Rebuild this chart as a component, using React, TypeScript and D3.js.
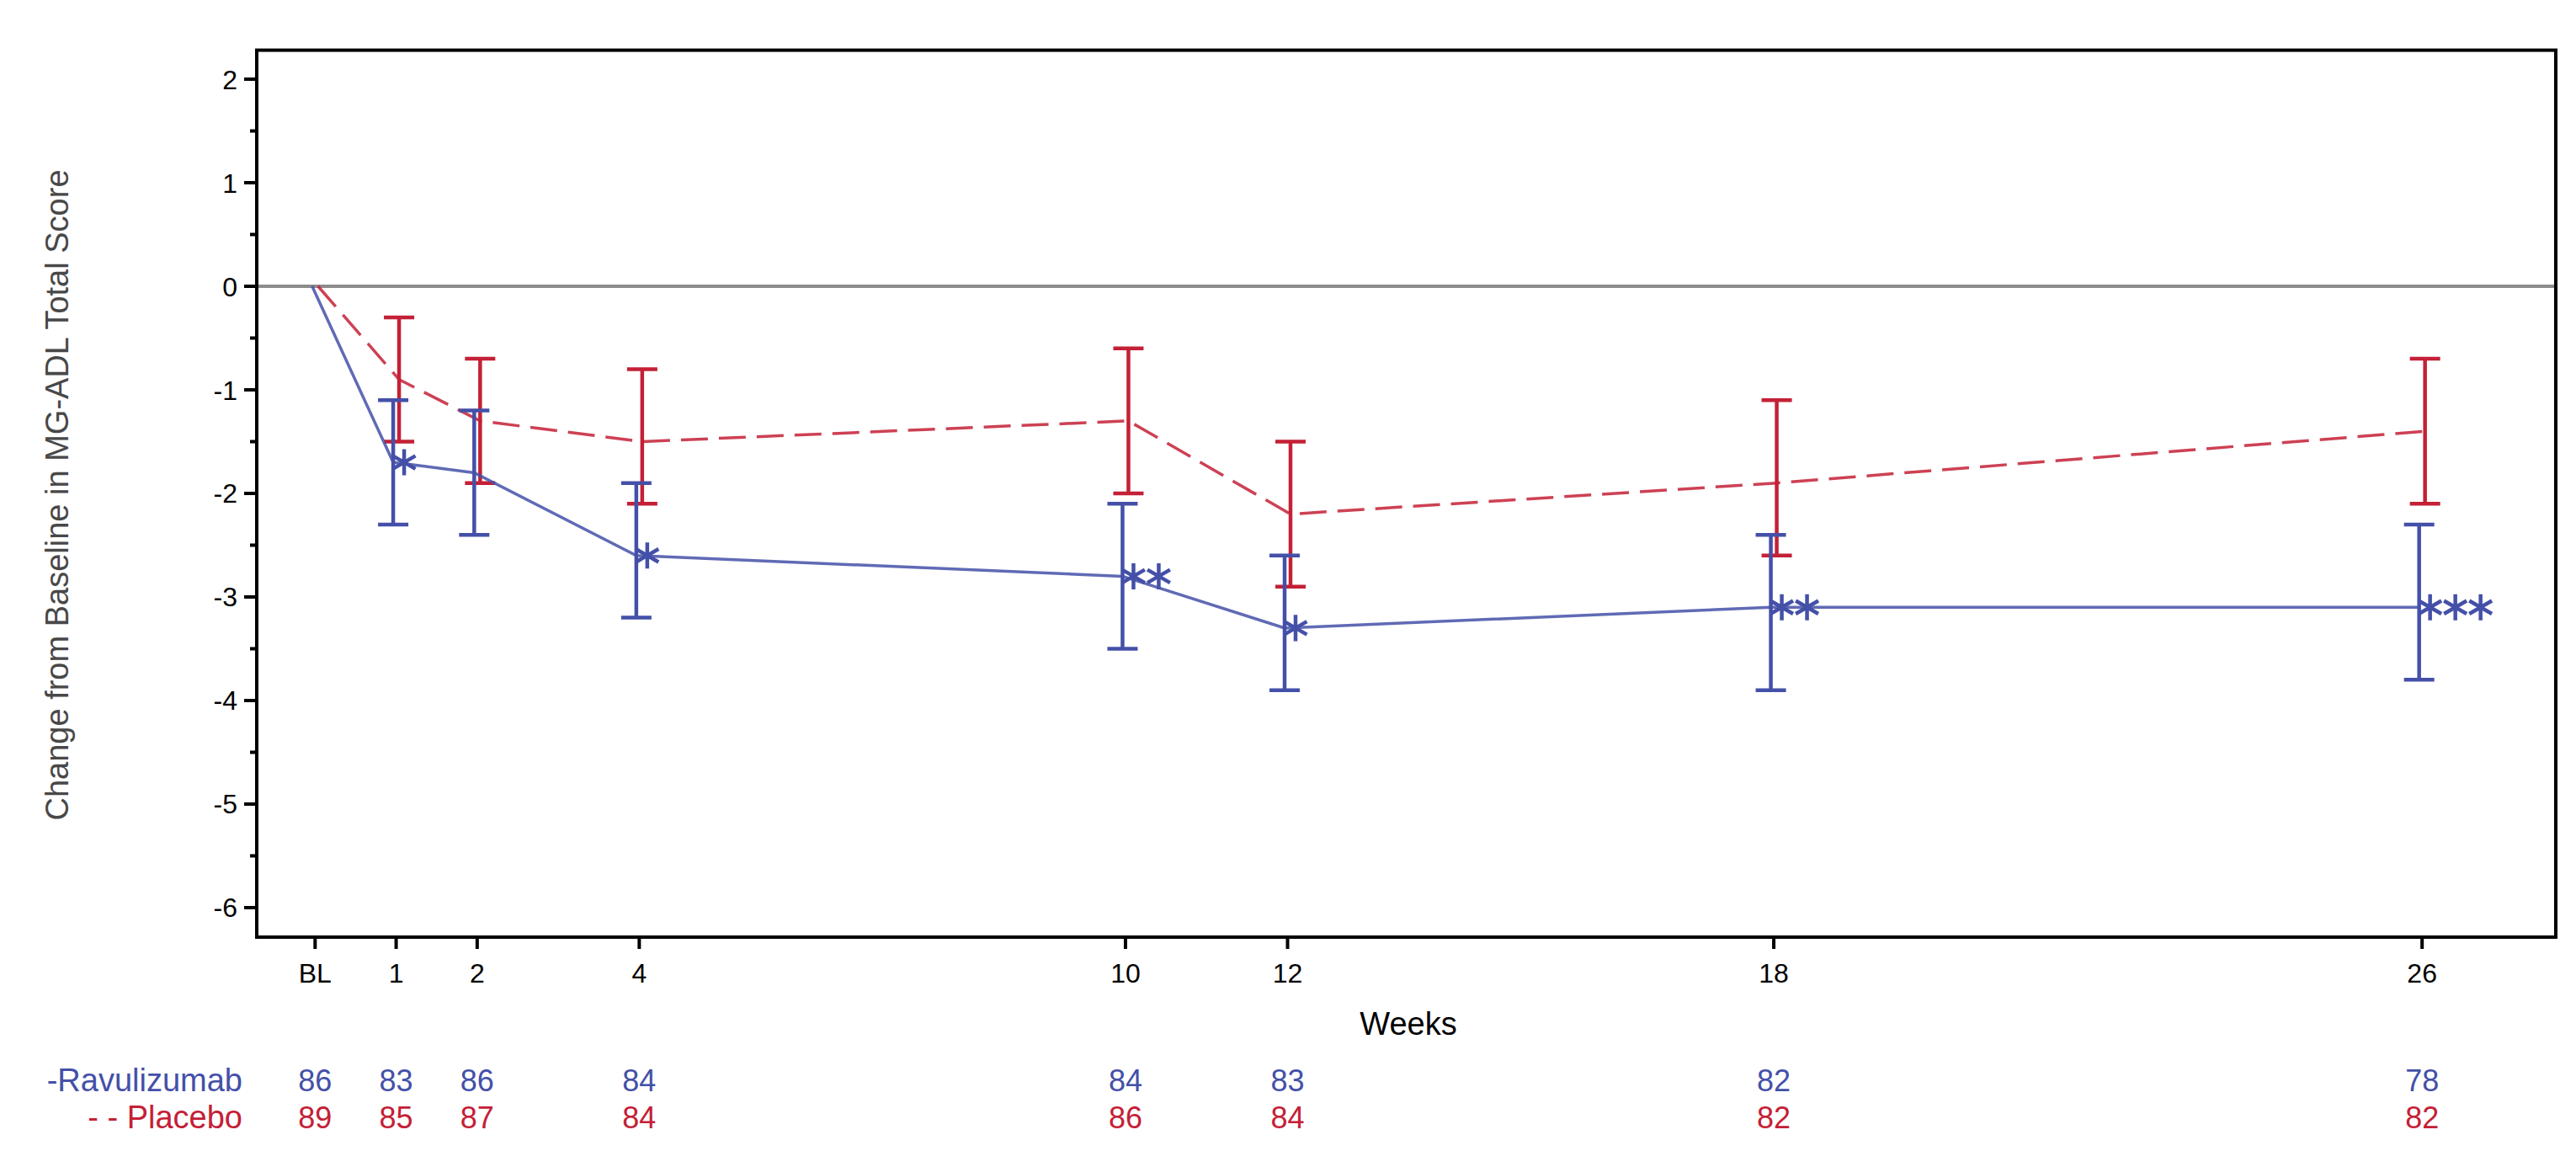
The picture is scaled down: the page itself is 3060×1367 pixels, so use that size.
import React, { useEffect, useRef } from "react";
import * as d3 from "d3";

// weeks on the x axis and their labels
const weeks = [0, 1, 2, 4, 10, 12, 18, 26];
const weekLabels = ["BL", "1", "2", "4", "10", "12", "18", "26"];

// Ravulizumab: mean change and 95% CI
const ravuMean = [0, -1.7, -1.8, -2.6, -2.8, -3.3, -3.1, -3.1];
const ravuLower = [null, -2.3, -2.4, -3.2, -3.5, -3.9, -3.9, -3.8];
const ravuUpper = [null, -1.1, -1.2, -1.9, -2.1, -2.6, -2.4, -2.3];
const ravuStars = ["", "*", "", "*", "**", "*", "**", "***"];

// Placebo: mean change and 95% CI
const placMean = [0, -0.9, -1.3, -1.5, -1.3, -2.2, -1.9, -1.4];
const placLower = [null, -1.5, -1.9, -2.1, -2.0, -2.9, -2.6, -2.1];
const placUpper = [null, -0.3, -0.7, -0.8, -0.6, -1.5, -1.1, -0.7];

// number of patients at each visit
const ravuN = [86, 83, 86, 84, 84, 83, 82, 78];
const placN = [89, 85, 87, 84, 86, 84, 82, 82];

const yTicks = [-6, -5, -4, -3, -2, -1, 0, 1, 2];
const yMinorTicks = [-5.5, -4.5, -3.5, -2.5, -1.5, -0.5, 0.5, 1.5];

const BLUE = "#4450a8";
const RED = "#c42036";
const FONT = "'Liberation Sans', Arial, Helvetica, sans-serif";

const W = 3060;
const H = 1367;

const App: React.FC = () => {
  const ref = useRef<SVGSVGElement>(null);

  useEffect(() => {
    const left = 305, right = 3036, top = 59.6, bottom = 1113;

    const svg = d3.select(ref.current);
    svg.selectAll("*").remove();

    const x = d3.scaleLinear().domain([-0.72, 27.65]).range([left, right]);
    const y = d3.scaleLinear().domain([-6.285, 2.28]).range([bottom, top]);

    // y axis ticks and labels
    const yAxis = svg.append("g").attr("transform", `translate(${left},0)`);
    yAxis.selectAll("line.major")
      .data(yTicks)
      .join("line")
      .attr("x1", -15).attr("x2", 0)
      .attr("y1", d => y(d)).attr("y2", d => y(d))
      .attr("stroke", "#000").attr("stroke-width", 4);
    yAxis.selectAll("line.minor")
      .data(yMinorTicks)
      .join("line")
      .attr("x1", -8).attr("x2", 0)
      .attr("y1", d => y(d)).attr("y2", d => y(d))
      .attr("stroke", "#000").attr("stroke-width", 4);
    yAxis.selectAll("text")
      .data(yTicks)
      .join("text")
      .attr("x", -23)
      .attr("y", d => y(d) + 11.5)
      .attr("text-anchor", "end")
      .attr("font-family", FONT)
      .attr("font-size", 32)
      .attr("fill", "#000")
      .text(d => String(d));

    // x axis ticks and labels
    const xAxis = svg.append("g").attr("transform", `translate(0,${bottom})`);
    xAxis.selectAll("line")
      .data(weeks)
      .join("line")
      .attr("x1", d => x(d)).attr("x2", d => x(d))
      .attr("y1", 0).attr("y2", 14)
      .attr("stroke", "#000").attr("stroke-width", 4);
    xAxis.selectAll("text")
      .data(weeks)
      .join("text")
      .attr("x", d => x(d))
      .attr("y", 54)
      .attr("text-anchor", "middle")
      .attr("font-family", FONT)
      .attr("font-size", 32)
      .attr("fill", "#000")
      .text((d, i) => weekLabels[i]);

    // zero reference line
    svg.append("line")
      .attr("x1", left).attr("x2", right)
      .attr("y1", y(0)).attr("y2", y(0))
      .attr("stroke", "#8c8c8c").attr("stroke-width", 4);

    const series = [
      { mean: placMean, lo: placLower, hi: placUpper, color: RED, dx: 3.5, dash: "32 13" },
      { mean: ravuMean, lo: ravuLower, hi: ravuUpper, color: BLUE, dx: -3.5, dash: null },
    ];

    series.forEach(s => {
      const pts = weeks.map((w, i) => [x(w) + s.dx, y(s.mean[i])] as [number, number]);
      svg.append("path")
        .attr("d", d3.line()(pts))
        .attr("fill", "none")
        .attr("stroke", s.color)
        .attr("stroke-width", 3.5)
        .attr("stroke-opacity", 0.85)
        .attr("stroke-dasharray", s.dash);

      const bars = weeks.map((w, i) => ({ w, lo: s.lo[i], hi: s.hi[i] })).filter(d => d.lo != null);
      const g = svg.append("g").attr("stroke", s.color).attr("stroke-width", 4.5).attr("fill", "none");
      g.selectAll("line.stem")
        .data(bars)
        .join("line")
        .attr("x1", d => x(d.w) + s.dx).attr("x2", d => x(d.w) + s.dx)
        .attr("y1", d => y(d.hi)).attr("y2", d => y(d.lo));
      g.selectAll("line.top")
        .data(bars)
        .join("line")
        .attr("x1", d => x(d.w) + s.dx - 18).attr("x2", d => x(d.w) + s.dx + 18)
        .attr("y1", d => y(d.hi)).attr("y2", d => y(d.hi));
      g.selectAll("line.bot")
        .data(bars)
        .join("line")
        .attr("x1", d => x(d.w) + s.dx - 18).attr("x2", d => x(d.w) + s.dx + 18)
        .attr("y1", d => y(d.lo)).attr("y2", d => y(d.lo));
    });

    // significance asterisks next to Ravulizumab means
    const star = d3.symbol().type(d3.symbolAsterisk).size(680);
    const starPts: { cx: number; cy: number }[] = [];
    weeks.forEach((w, i) => {
      for (let k = 0; k < ravuStars[i].length; k++) {
        starPts.push({ cx: x(w) - 3.5 + 13 + k * 30, cy: y(ravuMean[i]) });
      }
    });
    svg.append("g")
      .selectAll("path")
      .data(starPts)
      .join("path")
      .attr("d", star() as string)
      .attr("transform", d => `translate(${d.cx},${d.cy})`)
      .attr("fill", "none")
      .attr("stroke", BLUE)
      .attr("stroke-width", 4.5);

    // plot frame
    svg.append("rect")
      .attr("x", left).attr("y", top)
      .attr("width", right - left).attr("height", bottom - top)
      .attr("fill", "none")
      .attr("stroke", "#000").attr("stroke-width", 4);

    // axis titles
    svg.append("text")
      .attr("transform", `translate(81,588) rotate(-90)`)
      .attr("text-anchor", "middle")
      .attr("font-family", FONT)
      .attr("font-size", 38)
      .attr("fill", "#484848")
      .text("Change from Baseline in MG-ADL Total Score");
    svg.append("text")
      .attr("x", 1673).attr("y", 1229)
      .attr("text-anchor", "middle")
      .attr("font-family", FONT)
      .attr("font-size", 38)
      .attr("fill", "#000")
      .text("Weeks");

    // patients at risk table
    const rows = [
      { label: "-Ravulizumab", n: ravuN, color: BLUE, yy: 1296 },
      { label: "- - Placebo", n: placN, color: RED, yy: 1340 },
    ];
    rows.forEach(r => {
      svg.append("text")
        .attr("x", 288).attr("y", r.yy)
        .attr("text-anchor", "end")
        .attr("font-family", FONT)
        .attr("font-size", 38)
        .attr("fill", r.color)
        .text(r.label);
      svg.append("g")
        .selectAll("text")
        .data(weeks)
        .join("text")
        .attr("x", d => x(d))
        .attr("y", r.yy)
        .attr("text-anchor", "middle")
        .attr("font-family", FONT)
        .attr("font-size", 36)
        .attr("fill", r.color)
        .text((d, i) => r.n[i]);
    });
  }, []);

  return (
    <svg
      ref={ref}
      width={W}
      height={H}
      style={{ position: "absolute", left: 0, top: 0, background: "#fff" }}
    />
  );
};

export default App;
